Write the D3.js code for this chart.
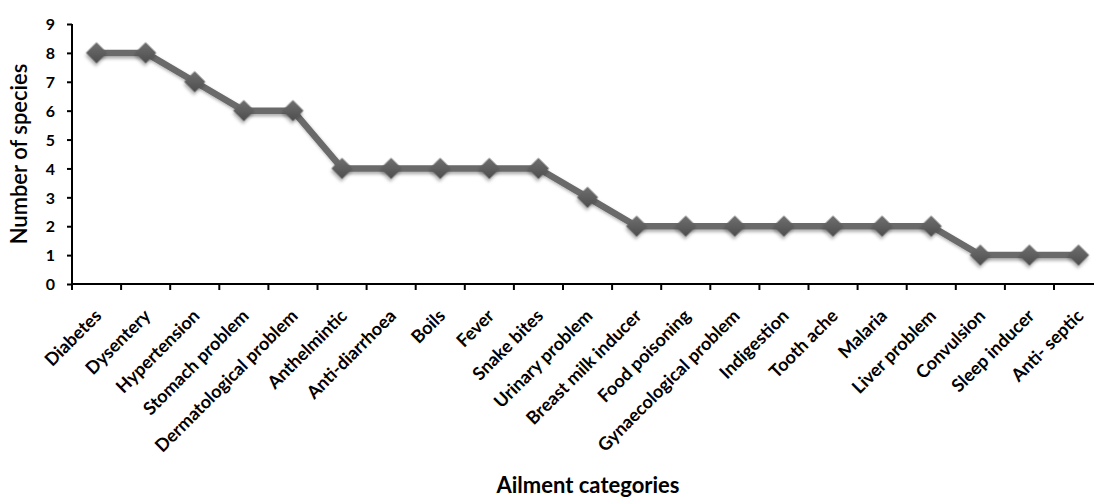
<!DOCTYPE html>
<html><head><meta charset="utf-8">
<script src="https://cdn.jsdelivr.net/npm/d3@7"></script>
<style>
html,body{margin:0;padding:0;background:#fff;overflow:hidden}
svg{display:block}
text{font-family:Lato,"Open Sans",sans-serif;font-weight:bold;fill:#000}
</style></head>
<body>
<svg id="c" width="1094" height="497"></svg>
<script>
const categories = ["Diabetes","Dysentery","Hypertension","Stomach problem","Dermatological problem","Anthelmintic","Anti-diarrhoea","Boils","Fever","Snake bites","Urinary problem","Breast milk inducer","Food poisoning","Gynaecological problem","Indigestion","Tooth ache","Malaria","Liver problem","Convulsion","Sleep inducer","Anti- septic"];
const species = [8,8,7,6,6,4,4,4,4,4,3,2,2,2,2,2,2,2,1,1,1];
const yTicks = [0,1,2,3,4,5,6,7,8,9];

const svg = d3.select("#c");
const x0 = 72, step = 49.1;
const x = d3.scaleBand().domain(categories).range([x0, x0 + step*categories.length]).padding(0);
const y = d3.scaleLinear().domain([0,9]).range([284,24]);

const defs = svg.append("defs");
const f = defs.append("filter").attr("id","sh").attr("x","-50%").attr("y","-50%").attr("width","200%").attr("height","200%");
f.append("feDropShadow").attr("dx",1.5).attr("dy",2.5).attr("stdDeviation",1.8).attr("flood-color","#000").attr("flood-opacity",0.3);
const g = defs.append("linearGradient").attr("id","dg").attr("x1",0).attr("y1",0).attr("x2",1).attr("y2",1);
g.append("stop").attr("offset","0%").attr("stop-color","#707070");
g.append("stop").attr("offset","100%").attr("stop-color","#4c4c4c");

// axes
const yAxis = d3.axisLeft(y).tickValues(yTicks).tickSize(5).tickPadding(12).tickFormat(d3.format("d"));
const ya = svg.append("g").attr("transform",`translate(${x0},0)`).call(yAxis);
ya.select(".domain").attr("stroke","#000").attr("stroke-width",2).attr("d",`M0,${y(9)}V${y(0)}`);
ya.selectAll(".tick line").attr("stroke","#000").attr("stroke-width",2);
ya.selectAll(".tick text").style("font-size","16px").attr("dy","0.36em");

const xa = svg.append("g").attr("transform","translate(0,284)");
xa.append("line").attr("x1",x0-1).attr("x2",x0+step*categories.length).attr("y1",0).attr("y2",0).attr("stroke","#000").attr("stroke-width",2);
const bounds = categories.map((c)=>x(c)).concat([x0+step*categories.length]);
xa.selectAll("line.tk").data(bounds).enter().append("line").attr("class","tk")
  .attr("x1",d=>d).attr("x2",d=>d).attr("y1",0).attr("y2",6).attr("stroke","#000").attr("stroke-width",2);
xa.selectAll("text.lb").data(categories).enter().append("text").attr("class","lb")
  .attr("transform",d=>`translate(${x(d)+x.bandwidth()/2+6},${33}) rotate(-45)`)
  .attr("text-anchor","end").style("font-size","18px").text(d=>d);

// line
const cx = d=>x(d)+x.bandwidth()/2;
const line = d3.line().x((d,i)=>cx(categories[i])).y(d=>y(d));
svg.append("path").datum(species).attr("d",line).attr("fill","none").attr("stroke","#6a6a6a").attr("stroke-width",6.5).attr("stroke-linejoin","round").attr("filter","url(#sh)");

svg.selectAll("path.pt").data(species).enter().append("path").attr("class","pt")
  .attr("d",d3.symbol().type(d3.symbolSquare).size(225))
  .attr("transform",(d,i)=>`translate(${cx(categories[i])},${y(d)}) rotate(45)`)
  .attr("fill","url(#dg)").attr("filter","url(#sh)");

// titles
svg.append("text").attr("transform","translate(27,154) rotate(-90)").attr("text-anchor","middle").style("font-size","22px").style("font-weight","600").text("Number of species");
svg.append("text").attr("x",588).attr("y",493).attr("text-anchor","middle").style("font-size","22px").text("Ailment categories");
</script>
</body></html>
